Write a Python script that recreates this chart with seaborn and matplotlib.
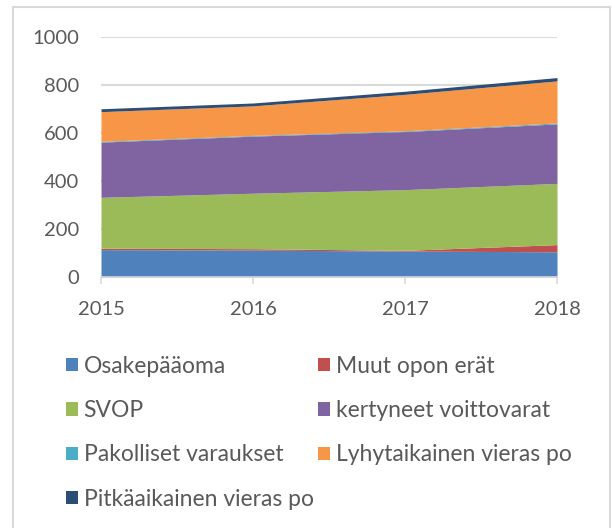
import matplotlib
matplotlib.use("Agg")
import matplotlib.pyplot as plt
from matplotlib.patches import Patch, Rectangle
import seaborn as sns

# values (milj. e)
years = [2015, 2016, 2017, 2018]
osakepaaoma = [114, 112, 108, 105]
muut_opon = [6, 6, 3, 30]
svop = [212, 231, 253, 255]
kertyneet = [230, 238, 242, 248]
pakolliset = [3, 3, 3, 4]
lyhyt_vieras = [124, 123, 152, 175]
pitka_vieras = [12, 12, 13, 14]

series_names = ["Osakepääoma", "Muut opon erät", "SVOP", "kertyneet voittovarat",
                "Pakolliset varaukset", "Lyhytaikainen vieras po", "Pitkäaikainen vieras po"]
colors = ["#4F81BD", "#C0504D", "#9BBB59", "#8064A2", "#4BACC6", "#F79646", "#2C4D75"]
ticks_y = [0, 200, 400, 600, 800, 1000]

sns.set_theme(style="white")
plt.rcParams["font.family"] = ["Lato", "DejaVu Sans"]
text_col = "#595959"
grid_col = "#d9d9d9"

fig = plt.figure(figsize=(6.12, 5.28), dpi=100)
ax = fig.add_axes([101 / 612, 1 - 277 / 528, 456 / 612, 240 / 528])

ax.stackplot(years, osakepaaoma, muut_opon, svop, kertyneet, pakolliset,
             lyhyt_vieras, pitka_vieras, colors=colors, linewidth=0, zorder=2)

ax.set_xlim(2015, 2018)
ax.set_ylim(0, 1000)
ax.set_yticks(ticks_y)
ax.set_xticks(years)
ax.set_xticklabels([str(y) for y in years])
ax.yaxis.grid(True, color=grid_col, linewidth=1.5, zorder=0)
ax.set_axisbelow(True)
for side in ["left", "right", "top"]:
    ax.spines[side].set_visible(False)
ax.spines["bottom"].set_color(grid_col)
ax.spines["bottom"].set_linewidth(1.2)
ax.tick_params(axis="x", colors=text_col, labelsize=14.5, length=5, width=1.2,
               color=grid_col, direction="out", pad=12, bottom=True)
ax.tick_params(axis="y", colors=text_col, labelsize=14.5, length=0, pad=16)

handles = [Patch(facecolor=c, edgecolor="none") for c in colors]
order = [0, 2, 4, 6, 1, 3, 5]
leg = fig.legend([handles[i] for i in order], [series_names[i] for i in order],
                 ncol=2, loc="upper left", bbox_to_anchor=(45 / 612, 1 - 335 / 528),
                 frameon=False, fontsize=16.5, handlelength=0.52, handleheight=0.52,
                 handletextpad=0.26, labelspacing=1.02, columnspacing=0.2)
for t in leg.get_texts():
    t.set_color(text_col)

# chart border
fig.patches.append(Rectangle((13 / 612, -0.05), 597 / 612, 1 - 7 / 528 + 0.05,
                             transform=fig.transFigure, fill=False,
                             edgecolor=grid_col, linewidth=1.5))

fig.savefig("out.png", dpi=100)
